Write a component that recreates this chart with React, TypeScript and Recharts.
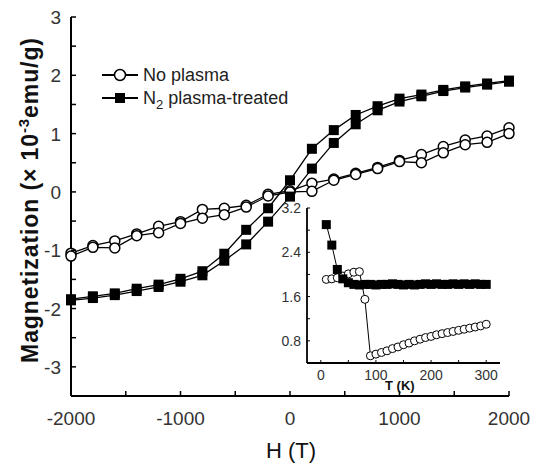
import { LineChart, Line, XAxis, YAxis, Legend } from 'recharts';

// main loop: field sweep H (T)
const fieldH = [-2000, -1800, -1600, -1400, -1200, -1000, -800, -600, -400, -200, 0, 200, 400, 600, 800, 1000, 1200, 1400, 1600, 1800, 2000];
// N2 plasma-treated, upper and lower branch
const n2Upper = [-1.84, -1.79, -1.74, -1.66, -1.59, -1.49, -1.36, -1.06, -0.65, -0.28, 0.2, 0.74, 1.06, 1.32, 1.47, 1.6, 1.67, 1.75, 1.81, 1.86, 1.91];
const n2Lower = [-1.86, -1.82, -1.77, -1.7, -1.63, -1.54, -1.43, -1.18, -0.9, -0.51, -0.08, 0.4, 0.84, 1.16, 1.4, 1.55, 1.64, 1.73, 1.79, 1.84, 1.89];
// no plasma, upper and lower branch
const npUpper = [-1.05, -0.92, -0.84, -0.72, -0.59, -0.51, -0.3, -0.28, -0.23, -0.04, 0.02, 0.15, 0.22, 0.32, 0.42, 0.54, 0.64, 0.78, 0.89, 0.96, 1.1];
const npLower = [-1.1, -0.95, -0.96, -0.75, -0.7, -0.54, -0.45, -0.39, -0.26, -0.07, 0.0, 0.01, 0.2, 0.3, 0.4, 0.52, 0.5, 0.67, 0.81, 0.85, 1.0];

const hTicks = [-2000, -1500, -1000, -500, 0, 500, 1000, 1500, 2000];
const mTicks = [-3, -2.5, -2, -1.5, -1, -0.5, 0, 0.5, 1, 1.5, 2, 2.5, 3];

// inset: temperature dependence
const tSquares = [10, 20, 30, 40, 50, 60, 70, 80, 90, 100, 110, 120, 130, 140, 150, 160, 170, 180, 190, 200, 210, 220, 230, 240, 250, 260, 270, 280, 290, 300];
const mSquares = [2.9, 2.53, 2.09, 1.92, 1.85, 1.82, 1.81, 1.82, 1.82, 1.81, 1.82, 1.82, 1.83, 1.82, 1.81, 1.82, 1.81, 1.82, 1.83, 1.82, 1.83, 1.82, 1.82, 1.83, 1.82, 1.83, 1.82, 1.83, 1.82, 1.82];
const tCircles = [10, 20, 30, 40, 50, 60, 70, 80, 90, 100, 110, 120, 130, 140, 150, 160, 170, 180, 190, 200, 210, 220, 230, 240, 250, 260, 270, 280, 290, 300];
const mCircles = [1.91, 1.92, 1.94, 1.97, 2.01, 2.04, 2.05, 1.55, 0.53, 0.56, 0.59, 0.62, 0.66, 0.69, 0.73, 0.76, 0.8, 0.83, 0.86, 0.88, 0.91, 0.93, 0.95, 0.97, 0.99, 1.01, 1.03, 1.05, 1.07, 1.1];

const tTicks = [0, 50, 100, 150, 200, 250, 300];
const insetYTicks = [0.8, 1.2, 1.6, 2.0, 2.4, 2.8, 3.2];

const loopData = fieldH.map((h, i) => ({
  h,
  n2Up: n2Upper[i],
  n2Lo: n2Lower[i],
  npUp: npUpper[i],
  npLo: npLower[i],
}));
const squareData = tSquares.map((t, i) => ({ t, m: mSquares[i] }));
const circleData = tCircles.map((t, i) => ({ t, m: mCircles[i] }));

const FONT = '"Liberation Sans", Arial, sans-serif';
const LABEL = '#333';

const BottomTick = ({ x, y, payload }: any) => (
  <g>
    <line x1={x} x2={x} y1={y} y2={y - 5} stroke="#000" strokeWidth={1.5} />
    {payload.value % 1000 === 0 && (
      <text x={x} y={y + 29} textAnchor="middle" fontFamily={FONT} fontSize={19} fill={LABEL}>{payload.value}</text>
    )}
  </g>
);
const TopTick = ({ x, y }: any) => <line x1={x} x2={x} y1={y} y2={y + 5} stroke="#000" strokeWidth={1.5} />;
const LeftTick = ({ x, y, payload }: any) => (
  <g>
    <line x1={x} x2={x + 5} y1={y} y2={y} stroke="#000" strokeWidth={1.5} />
    {Number.isInteger(payload.value) && (
      <text x={x - 10} y={y + 7} textAnchor="end" fontFamily={FONT} fontSize={19} fill={LABEL}>{payload.value}</text>
    )}
  </g>
);
const RightTick = ({ x, y }: any) => <line x1={x} x2={x - 5} y1={y} y2={y} stroke="#000" strokeWidth={1.5} />;

const SmallBottomTick = ({ x, y, payload }: any) => (
  <g>
    <line x1={x} x2={x} y1={y} y2={y - 3} stroke="#000" strokeWidth={1} />
    {payload.value % 100 === 0 && (
      <text x={x} y={y + 17} textAnchor="middle" fontFamily={FONT} fontSize={14} fill={LABEL}>{payload.value}</text>
    )}
  </g>
);
const SmallTopTick = ({ x, y }: any) => <line x1={x} x2={x} y1={y} y2={y + 3} stroke="#000" strokeWidth={1} />;
const SmallLeftTick = ({ x, y, payload }: any) => (
  <g>
    <line x1={x} x2={x + 3} y1={y} y2={y} stroke="#000" strokeWidth={1} />
    {Math.round(payload.value * 10) % 8 === 0 && (
      <text x={x - 6} y={y + 5} textAnchor="end" fontFamily={FONT} fontSize={14} fill={LABEL}>{payload.value.toFixed(1)}</text>
    )}
  </g>
);
const SmallRightTick = ({ x, y }: any) => <line x1={x} x2={x - 3} y1={y} y2={y} stroke="#000" strokeWidth={1} />;

const squareDot = (size: number) => (p: any) => (
  <rect key={`sq-${p.index}`} x={p.cx - size / 2} y={p.cy - size / 2} width={size} height={size} fill="#000" />
);

const LegendBox = () => (
  <svg width={230} height={50} style={{ overflow: 'visible' }}>
    <line x1={7} x2={43} y1={15} y2={15} stroke="#000" strokeWidth={2} />
    <circle cx={25} cy={15} r={5.5} fill="#fff" stroke="#000" strokeWidth={1.5} />
    <text x={48} y={21} fontFamily={FONT} fontSize={18} fill="#222">No plasma</text>
    <line x1={7} x2={43} y1={38} y2={38} stroke="#000" strokeWidth={2} />
    <rect x={20} y={33} width={10} height={10} fill="#000" />
    <text x={48} y={44} fontFamily={FONT} fontSize={18} fill="#222">
      N<tspan fontSize={13} dy={5}>2</tspan><tspan dy={-5}> plasma-treated</tspan>
    </text>
  </svg>
);

export default function App() {
  return (
    <div style={{ position: 'absolute', left: 0, top: 0, width: 537, height: 464, background: '#fff' }}>
      <LineChart width={537} height={464} data={loopData} margin={{ top: 17, right: 28, bottom: 0, left: 0 }}>
        <XAxis xAxisId="b" dataKey="h" type="number" domain={[-2000, 2000]} ticks={hTicks} interval={0} height={68}
          tickSize={0} tickMargin={0} tickLine={false} axisLine={{ stroke: '#000', strokeWidth: 2 }} tick={BottomTick} />
        <XAxis xAxisId="t" orientation="top" dataKey="h" type="number" domain={[-2000, 2000]} ticks={hTicks} interval={0} height={0}
          tickSize={0} tickMargin={0} tickLine={false} axisLine={{ stroke: '#000', strokeWidth: 2 }} tick={TopTick} />
        <YAxis yAxisId="l" type="number" domain={[-3.5, 3]} ticks={mTicks} interval={0} width={71}
          tickSize={0} tickMargin={0} tickLine={false} axisLine={{ stroke: '#000', strokeWidth: 2 }} tick={LeftTick} />
        <YAxis yAxisId="r" orientation="right" type="number" domain={[-3.5, 3]} ticks={mTicks} interval={0} width={0}
          tickSize={0} tickMargin={0} tickLine={false} axisLine={{ stroke: '#000', strokeWidth: 2 }} tick={RightTick} />
        <Legend layout="vertical" align="center" verticalAlign="middle" content={LegendBox}
          wrapperStyle={{ left: 95, top: 60, width: 230, height: 50 }} />
        <Line xAxisId="b" yAxisId="l" dataKey="npUp" stroke="#000" strokeWidth={1.3} isAnimationActive={false}
          dot={{ r: 5, fill: '#fff', stroke: '#000', strokeWidth: 1.5 }} />
        <Line xAxisId="b" yAxisId="l" dataKey="npLo" stroke="#000" strokeWidth={1.3} isAnimationActive={false}
          dot={{ r: 5, fill: '#fff', stroke: '#000', strokeWidth: 1.5 }} />
        <Line xAxisId="b" yAxisId="l" dataKey="n2Up" stroke="#000" strokeWidth={1.3} isAnimationActive={false} dot={squareDot(10)} />
        <Line xAxisId="b" yAxisId="l" dataKey="n2Lo" stroke="#000" strokeWidth={1.3} isAnimationActive={false} dot={squareDot(10)} />
      </LineChart>

      <div style={{ position: 'absolute', left: 270, top: 200, width: 240, height: 200 }}>
        <LineChart width={240} height={200} margin={{ top: 8, right: 10, bottom: 0, left: 0 }}>
          <XAxis xAxisId="b" dataKey="t" type="number" domain={[-25, 325]} ticks={tTicks} interval={0} height={37}
            tickSize={0} tickMargin={0} tickLine={false} axisLine={{ stroke: '#000', strokeWidth: 1.8 }} tick={SmallBottomTick}
            allowDuplicatedCategory={false} />
          <XAxis xAxisId="t" orientation="top" dataKey="t" type="number" domain={[-25, 325]} ticks={tTicks} interval={0} height={0}
            tickSize={0} tickMargin={0} tickLine={false} axisLine={{ stroke: '#000', strokeWidth: 1.2 }} tick={SmallTopTick}
            allowDuplicatedCategory={false} />
          <YAxis yAxisId="l" type="number" domain={[0.4, 3.2]} ticks={insetYTicks} interval={0} width={37}
            tickSize={0} tickMargin={0} tickLine={false} axisLine={{ stroke: '#000', strokeWidth: 1.8 }} tick={SmallLeftTick} />
          <YAxis yAxisId="r" orientation="right" type="number" domain={[0.4, 3.2]} ticks={insetYTicks} interval={0} width={0}
            tickSize={0} tickMargin={0} tickLine={false} axisLine={{ stroke: '#000', strokeWidth: 1.2 }} tick={SmallRightTick} />
          <Line xAxisId="b" yAxisId="l" data={circleData} dataKey="m" stroke="#000" strokeWidth={1} isAnimationActive={false}
            dot={{ r: 4, fill: '#fff', stroke: '#000', strokeWidth: 1 }} />
          <Line xAxisId="b" yAxisId="l" data={squareData} dataKey="m" stroke="#000" strokeWidth={1} isAnimationActive={false}
            dot={squareDot(9)} />
        </LineChart>
        <div style={{ position: 'absolute', left: 115, top: 178, fontFamily: FONT, fontWeight: 700, fontSize: 13, color: '#111' }}>T (K)</div>
      </div>

      <div style={{ position: 'absolute', left: 0, top: 0, width: 537, height: 464, pointerEvents: 'none' }}>
        <svg width={537} height={464}>
          <text x={291} y={458} textAnchor="middle" fontFamily={FONT} fontSize={22} fill="#111">H (T)</text>
          <text transform="translate(38,200) rotate(-90)" textAnchor="middle" fontFamily={FONT} fontSize={23} fontWeight={700}
            letterSpacing={0.9} fill="#111">
            Magnetization (× 10<tspan fontSize={15} dy={-9}>-3</tspan><tspan dy={9}>emu/g)</tspan>
          </text>
        </svg>
      </div>
    </div>
  );
}
